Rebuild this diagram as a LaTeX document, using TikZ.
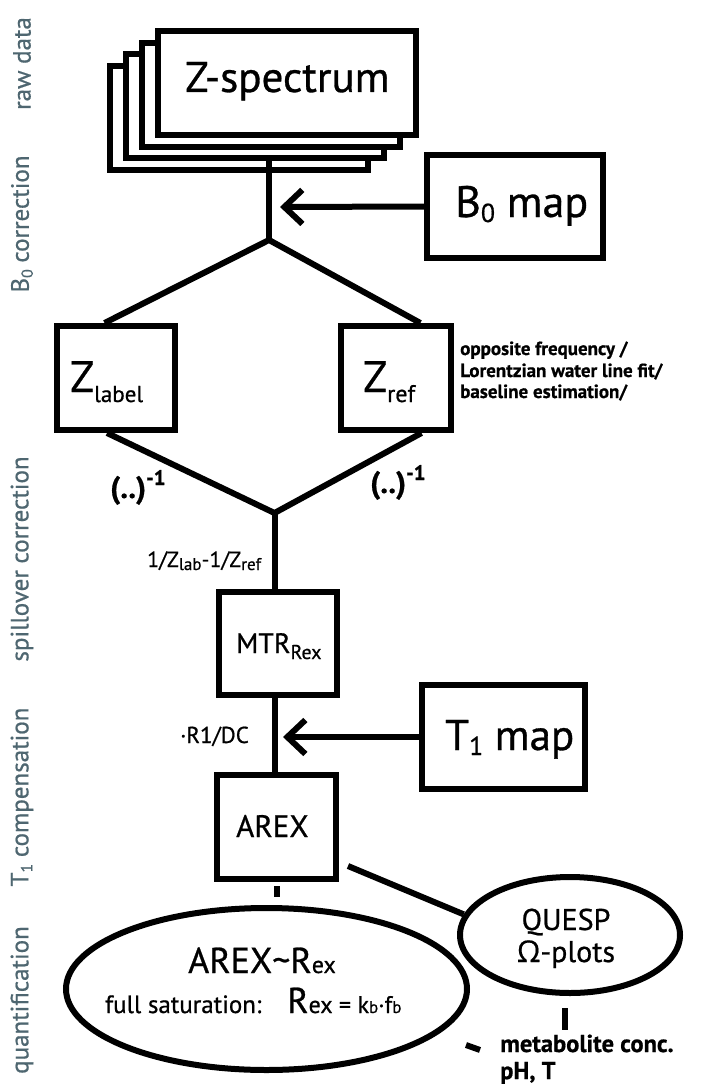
\documentclass[tikz,border=0pt]{standalone}
\usepackage{fontspec}
\setmainfont{PT Sans}[FakeBold=0.7]
\newfontfamily\grk{Open Sans}[FakeBold=0.5]
\usetikzlibrary{arrows.meta,shapes.geometric,calc}
\definecolor{lblc}{HTML}{4E6670}
\newcommand{\fsz}[1]{\fontsize{#1}{#1}\selectfont}
\newcommand{\lsub}[3]{\raisebox{-#1}{\fsz{#2}#3}}
\begin{document}
\begin{tikzpicture}[x=1pt,y=-1pt,
  box/.style={draw, line width=6pt, fill=white, inner sep=0pt},
  conn/.style={line width=6pt},
  ell/.style={draw, ellipse, line width=6pt, inner sep=0pt},
  txt/.style={inner sep=0pt, anchor=base west},
  ctxt/.style={inner sep=0pt, anchor=base},
  side/.style={inner sep=0pt, rotate=90, text=lblc, font=\fsz{25}},
  arr/.style={-{Straight Barb[length=18pt,width=34pt]}, line width=6pt}]
\fill[white] (0,0) rectangle (710,1086);
\useasboundingbox (0,0) rectangle (710,1086);

% side labels
\node[side] (l1) at (22,63.5) {raw data};
\node[side] (l2) at (22,224) {B\lsub{4pt}{16}{0} correction};
\node[side] (l3) at (22,559) {spillover correction};
\node[side] (l4) at (22,797) {T\lsub{4pt}{16}{1} compensation};
\node[side] (l5) at (22,1000) {quantification};

% Z-spectrum stack
\node[box, minimum width=258pt, minimum height=104pt] (zs4) at (239,118) {};
\node[box, minimum width=258pt, minimum height=104pt] (zs3) at (255,106.3) {};
\node[box, minimum width=258pt, minimum height=104pt] (zs2) at (271,94.7) {};
\node[box, minimum width=258pt, minimum height=104pt] (zs) at (287,83) {};
\node[txt, font=\fsz{43}] (zst) at (185,92) {Z-spectrum};

% B0 map
\node[box, minimum width=176pt, minimum height=103pt] (b0) at (515,206.5) {};
\node[txt, font=\fsz{44}] (b0t) at (455,217) {B\lsub{5pt}{26}{0} map};
\coordinate (fork) at (269,240);
\coordinate (b0tip) at (280,207);
\draw[conn] (fork |- zs3.south) -- (fork);
\draw[arr] (b0.west) -- (b0tip);

% Zlabel / Zref
\node[box, minimum width=118.5pt, minimum height=104pt] (zl) at (115.75,378) {};
\node[box, minimum width=110pt, minimum height=104pt] (zr) at (396,378) {};
\node[txt, font=\fsz{44}] (zlt) at (70,392) {Z\lsub{10pt}{23}{label}};
\node[txt, font=\fsz{44}] (zrt) at (363,392) {Z\lsub{10pt}{24}{ref}};
\draw[conn, line join=miter] ($(zl.north west)!0.41!(zl.north east)$) -- (fork) -- ($(zr.north west)!0.71!(zr.north east)$);

\node[txt, font=\bfseries\fsz{19}] (opp1) at (460,355) {opposite frequency /};
\node[txt, font=\bfseries\fsz{19}] (opp2) at (460,377) {Lorentzian water line fit/};
\node[txt, font=\bfseries\fsz{19}] (opp3) at (460,398) {baseline estimation/};

\coordinate (join) at (274.5,513);
\draw[conn, line join=miter] ($(zl.south west)!0.43!(zl.south east)$) -- (join) -- ($(zr.south west)!0.72!(zr.south east)$);
\node[txt, font=\bfseries\fsz{31}] (inv1) at (110,498) {(..)\raisebox{13pt}{\fsz{21}-1}};
\node[txt, font=\bfseries\fsz{31}] (inv2) at (370,493) {(..)\raisebox{13pt}{\fsz{21}-1}};

% MTRRex
\node[box, minimum width=118pt, minimum height=103pt] (mtr) at (278,643.5) {};
\node[txt, font=\fsz{28}] (mtrt) at (236,653) {MTR\lsub{6pt}{20}{Rex}};
\draw[conn] (join) -- (join |- mtr.north);
\node[txt, font=\fsz{22}] (diff) at (147,567) {1/Z\lsub{3pt}{17}{lab}-1/Z\lsub{3pt}{17}{ref}};

% AREX
\node[box, minimum width=119pt, minimum height=104pt] (arex) at (276.5,827) {};
\node[txt, font=\fsz{31}] (arext) at (236,837) {AREX};
\draw[conn] (join |- mtr.south) -- (join |- arex.north);
\node[txt, font=\fsz{23}] (r1dc) at (180,743) {·R1/DC};

% T1 map
\node[box, minimum width=163pt, minimum height=104pt] (t1) at (503.5,737) {};
\node[txt, font=\fsz{43}] (t1t) at (445,750) {T\lsub{5pt}{26}{1} map};
\coordinate (t1tip) at (283,737);
\draw[arr] (t1.west) -- (t1tip);

% quantification
\node[ell, minimum width=401pt, minimum height=162pt] (arexr) at (266.5,989) {};
\node[ell, minimum width=220pt, minimum height=116pt] (quesp) at (570,935) {};
\draw[conn] ($(arex.south)+(0.5,4)$) -- ++(0,11);
\draw[conn] ($(arex.south east)+(9,-16)$) -- (quesp.169);
\draw[conn] ($(quesp.south)+(-5,12)$) -- ++(0,22);
\coordinate (dash) at (466,1045);
\draw[conn] (dash) -- ++(14,5);

\node[txt, font=\fsz{36}] (ar1) at (188,973) {AREX\textasciitilde R{\fsz{24}ex}};
\node[txt, font=\fsz{25}] (fs) at (105,1013) {full saturation:};
\node[txt, font=\fsz{36}] (rex) at (287,1013) {R{\fsz{24}ex = k{\fsz{17}b}·f{\fsz{17}b}}};

\node[ctxt, font=\fsz{30}] (q1) at (566,930) {QUESP};
\node[ctxt, font=\fsz{30}] (q2) at (566,962) {{\grk Ω}-plots};

\node[txt, font=\bfseries\fsz{24.5}] (met) at (500,1052) {metabolite conc.};
\node[txt, font=\bfseries\fsz{24.5}] (ph) at (500,1079) {pH, T};
\end{tikzpicture}
\end{document}
